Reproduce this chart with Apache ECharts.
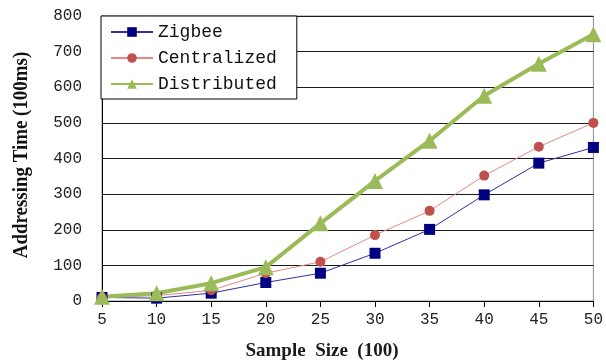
<!DOCTYPE html>
<html>
<head>
<meta charset="utf-8">
<script src="https://cdn.jsdelivr.net/npm/echarts@6/dist/echarts.min.js"></script>
<style>
  html, body { margin: 0; padding: 0; background: #fff; }
  #chart { width: 606px; height: 361px; }
</style>
</head>
<body>
<div id="chart"></div>
<script>
// Sample sizes (hundreds) along the x axis
const sampleSizes = ['5', '10', '15', '20', '25', '30', '35', '40', '45', '50'];

// Addressing time (100 ms) for each scheme
const zigbee      = [10, 8, 22, 52, 78, 134, 201, 298, 387, 431];
const centralized = [10, 15, 30, 78, 110, 185, 253, 352, 433, 500];
const distributed = [12, 22, 50, 95, 218, 337, 450, 576, 666, 749];

const seriesNames = ['Zigbee', 'Centralized', 'Distributed'];

const yTitle = 'Addressing Time (100ms)';
const xTitle = 'Sample\u00a0 Size\u00a0 (100)';

const chart = echarts.init(document.getElementById('chart'), null, { renderer: 'canvas' });

const monoFont = '"Liberation Mono", "DejaVu Sans Mono", monospace';
const serifFont = '"Liberation Serif", "DejaVu Serif", serif';

chart.setOption({
  animation: false,
  backgroundColor: '#ffffff',
  grid: {
    left: 102, right: 12, top: 16, bottom: 60,
    show: true,
    borderColor: '#8c8c8c',
    borderWidth: 1
  },
  legend: {
    orient: 'vertical',
    left: 101,
    top: 16,
    padding: [7, 20, 6, 9],
    itemGap: 8,
    itemWidth: 42,
    itemHeight: 12,
    backgroundColor: '#ffffff',
    borderColor: '#000000',
    borderWidth: 1,
    borderRadius: 0,
    data: seriesNames,
    textStyle: { fontFamily: monoFont, fontSize: 18, color: '#111111' }
  },
  xAxis: {
    type: 'category',
    data: sampleSizes,
    boundaryGap: false,
    axisLine: { show: true, lineStyle: { color: '#000000', width: 1 } },
    axisTick: { show: true, alignWithLabel: true, length: 6, lineStyle: { color: '#000000' } },
    axisLabel: { fontFamily: monoFont, fontSize: 16, color: '#222222', margin: 11 },
    splitLine: { show: false }
  },
  yAxis: {
    type: 'value',
    min: 0, max: 800, interval: 100,
    axisLine: { show: true, lineStyle: { color: '#000000', width: 1 } },
    axisTick: { show: false },
    axisLabel: { fontFamily: monoFont, fontSize: 16, color: '#222222', margin: 20 },
    splitLine: { show: true, lineStyle: { color: '#1a1a1a', width: 1 } }
  },
  graphic: [
    {
      type: 'text',
      x: 21, y: 155,
      rotation: Math.PI / 2,
      scaleX: 0.86,
      style: {
        text: yTitle,
        fontFamily: serifFont, fontSize: 22, fontWeight: 'bold',
        fill: '#111111',
        align: 'center', verticalAlign: 'middle'
      }
    },
    {
      type: 'text',
      x: 322, y: 351,
      style: {
        text: xTitle,
        fontFamily: serifFont, fontSize: 19, fontWeight: 'bold',
        fill: '#1a1a1a',
        align: 'center', verticalAlign: 'middle'
      }
    }
  ],
  series: [
    {
      name: seriesNames[0],
      type: 'line',
      data: zigbee,
      symbol: 'rect',
      symbolSize: 11,
      lineStyle: { color: '#2f2fa0', width: 1 },
      itemStyle: { color: '#000080' }
    },
    {
      name: seriesNames[1],
      type: 'line',
      data: centralized,
      symbol: 'circle',
      symbolSize: 10,
      lineStyle: { color: '#e38a86', width: 1 },
      itemStyle: { color: '#c0504d' }
    },
    {
      name: seriesNames[2],
      type: 'line',
      data: distributed,
      symbol: 'triangle',
      symbolSize: 16,
      lineStyle: { color: '#9bbb59', width: 4 },
      itemStyle: { color: '#9bbb59' }
    }
  ]
});
</script>
</body>
</html>
